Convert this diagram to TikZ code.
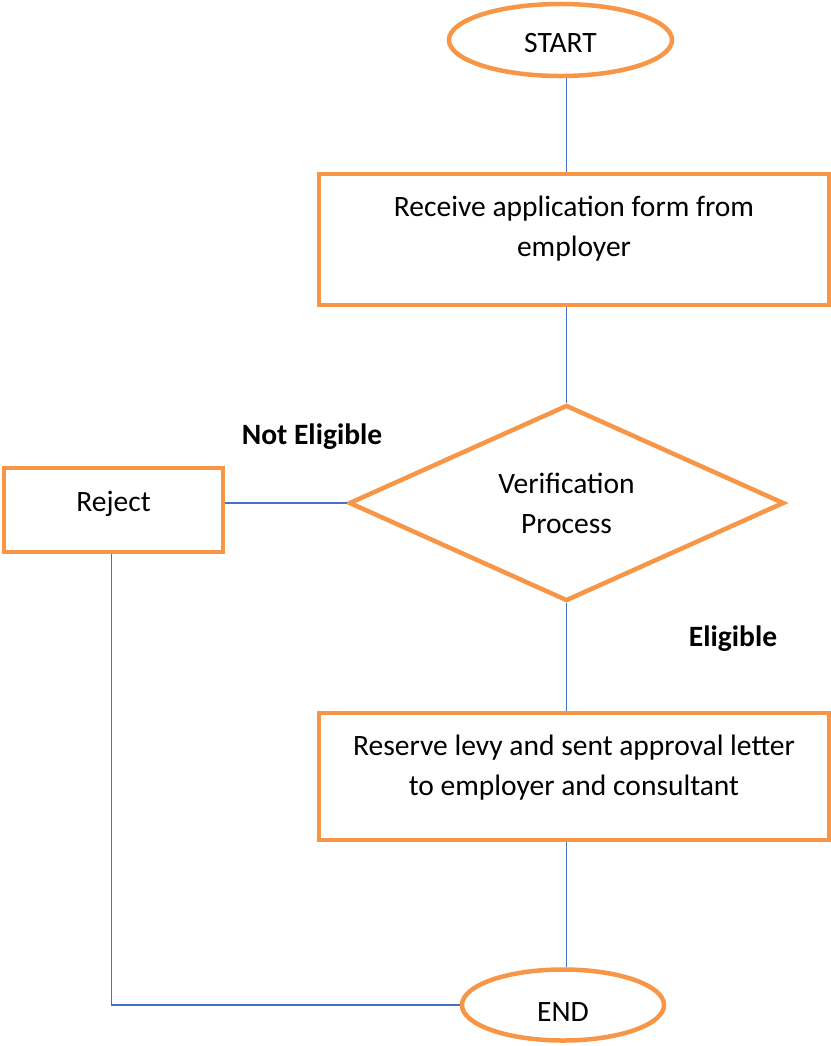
\documentclass[tikz,border=0pt]{standalone}
\usepackage{fontspec}
\setmainfont{Carlito}
\usetikzlibrary{shapes.geometric,positioning}
\definecolor{boxorange}{HTML}{F79646}
\definecolor{lineblue}{HTML}{4472C4}
\tikzstyle{terminal} = [ellipse, draw=boxorange, line width=3.2pt, inner sep=0pt]
\tikzstyle{process} = [rectangle, draw=boxorange, line width=3.2pt, align=center, inner sep=0pt]
\tikzstyle{decision} = [diamond, draw=boxorange, line width=3.2pt, align=center, inner sep=0pt, aspect=2.22]
\tikzstyle{link} = [lineblue, line width=1pt]
\tikzstyle{tag} = [font=\fontsize{21}{28.4}\selectfont\bfseries, inner sep=0pt]

\begin{document}
\begin{tikzpicture}[x=0.025cm, y=-0.025cm, font=\fontsize{21}{28.4}\selectfont]
      \useasboundingbox (0,0) rectangle (830,1046);

      % shapes
      \node[terminal, minimum width=5.575cm, minimum height=1.8cm, text height=18pt] (start) at (560.5,40) {START};
      \node[process, minimum width=12.75cm, minimum height=3.275cm, text depth=19pt] (recv) at (574,239.5) {Receive application form from\\employer};
      \node[decision, minimum width=10.875cm, minimum height=4.9cm] (verify) at (566.5,503) {Verification\\Process};
      \node[process, minimum width=5.475cm, minimum height=2.1cm, text depth=12pt] (reject) at (113.5,510) {Reject};
      \node[process, minimum width=12.75cm, minimum height=3.175cm, text depth=16pt] (reserve) at (574,776.5) {Reserve levy and sent approval letter\\to employer and consultant};
      \node[terminal, minimum width=5.05cm, minimum height=1.775cm, text height=23pt] (stop) at (563,1005) {END};

      % labels
      \node[tag] (noteligible) at (312,437) {Not Eligible};
      \node[tag] (eligible) at (733,639) {Eligible};

      % connectors
      \draw[link] (verify.north |- start.south) -- (verify.north |- recv.north);
      \draw[link] (recv.south -| verify.north) -- (verify.north);
      \draw[link] (verify.west) -- (verify.west -| reject.east);
      \draw[link] (verify.south) -- (verify.south |- reserve.north);
      \draw[link] (reserve.south -| verify.south) -- (verify.south |- stop.north);
      \draw[link] ([xshift=-0.05cm]reject.south) |- (stop.west);
\end{tikzpicture}
\end{document}
